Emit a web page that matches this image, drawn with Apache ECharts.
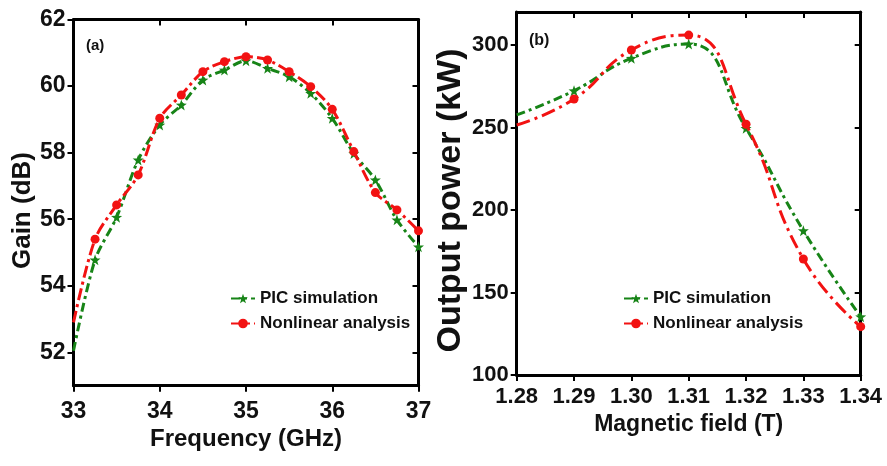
<!DOCTYPE html>
<html>
<head>
<meta charset="utf-8">
<script src="https://cdn.jsdelivr.net/npm/echarts@6/dist/echarts.min.js"></script>
<style>html,body{margin:0;padding:0;background:#fff;}#c{width:887px;height:466px;}</style>
</head>
<body>
<div id="c"></div>
<script>
// Panel (a): Gain vs frequency
const freqGHz = [33.0, 33.25, 33.5, 33.75, 34.0, 34.25, 34.5, 34.75, 35.0, 35.25, 35.5, 35.75, 36.0, 36.25, 36.5, 36.75, 37.0];
const gainPIC = [52.05, 54.78, 56.06, 57.78, 58.83, 59.43, 60.18, 60.48, 60.76, 60.53, 60.28, 59.78, 59.03, 57.97, 57.18, 55.98, 55.17];
const gainNonlinear = [52.9, 55.4, 56.43, 57.33, 59.03, 59.73, 60.43, 60.73, 60.88, 60.78, 60.43, 59.98, 59.3, 58.03, 56.8, 56.28, 55.65];
const gainTicks = [52, 54, 56, 58, 60, 62];
const freqTicks = [33, 34, 35, 36, 37];

// Panel (b): Output power vs magnetic field
const fieldT = [1.28, 1.29, 1.30, 1.31, 1.32, 1.33, 1.34];
const powerPIC = [257.6, 272.3, 292.0, 300.6, 249.5, 187.5, 135.3];
const powerNonlinear = [251.5, 267.3, 297.0, 306.0, 252.0, 170.3, 129.3];
const powerTicks = [100, 150, 200, 250, 300];
const fieldTicks = [1.28, 1.29, 1.30, 1.31, 1.32, 1.33, 1.34];

const seriesNames = ['PIC simulation', 'Nonlinear analysis'];

const FONT = "'Liberation Sans', Arial, sans-serif";
const GREEN = '#178417';
const RED = '#f21212';
const STAR = 'path://M50,0 L61.8,33.8 L97.6,34.5 L69,56.2 L79.4,90.5 L50,70 L20.6,90.5 L31,56.2 L2.4,34.5 L38.2,33.8 Z';

const chart = echarts.init(document.getElementById('c'), null, {renderer: 'canvas'});

function mainX(gi, min, max, ticks, name, fs, nfs, margin, gap, decimals) {
  return {
    type: 'value', gridIndex: gi, min: min, max: max, position: 'bottom',
    name: name, nameLocation: 'middle', nameGap: gap,
    nameTextStyle: {fontFamily: FONT, fontWeight: 'bold', fontSize: nfs, color: '#111'},
    axisLine: {show: true, lineStyle: {color: '#000', width: 3}},
    axisTick: {show: true, inside: false, length: 6, lineStyle: {color: '#000', width: 2}, customValues: ticks},
    axisLabel: {show: true, margin: margin, fontFamily: FONT, fontWeight: 'bold', fontSize: fs, color: '#111',
      customValues: ticks, formatter: v => v.toFixed(decimals)},
    splitLine: {show: false}
  };
}
function mirrorX(gi, min, max, ticks) {
  return {
    type: 'value', gridIndex: gi, min: min, max: max, position: 'top',
    axisLine: {show: true, lineStyle: {color: '#000', width: 3}},
    axisTick: {show: true, inside: true, length: 6, lineStyle: {color: '#000', width: 2}, customValues: ticks},
    axisLabel: {show: false}, splitLine: {show: false}
  };
}
function mainY(gi, min, max, ticks, name, fs, nfs, margin, gap, pad) {
  return {
    type: 'value', gridIndex: gi, min: min, max: max, position: 'left',
    name: name, nameLocation: 'middle', nameGap: gap, nameRotate: 90,
    nameTextStyle: {fontFamily: FONT, fontWeight: 'bold', fontSize: nfs, color: '#111', padding: pad},
    axisLine: {show: true, lineStyle: {color: '#000', width: 3}},
    axisTick: {show: true, inside: false, length: 6, lineStyle: {color: '#000', width: 2}, customValues: ticks},
    axisLabel: {show: true, margin: margin, fontFamily: FONT, fontWeight: 'bold', fontSize: fs, color: '#111', customValues: ticks},
    splitLine: {show: false}
  };
}
function mirrorY(gi, min, max, ticks) {
  return {
    type: 'value', gridIndex: gi, min: min, max: max, position: 'right',
    axisLine: {show: true, lineStyle: {color: '#000', width: 3}},
    axisTick: {show: true, inside: true, length: 6, lineStyle: {color: '#000', width: 2}, customValues: ticks},
    axisLabel: {show: false}, splitLine: {show: false}
  };
}
// first point sits on the left frame without a marker
function zip(xs, ys) {
  return xs.map((x, i) => i === 0 ? {value: [x, ys[i]], symbol: 'none'} : [x, ys[i]]);
}
function line(name, xi, yi, data, color, symbol, size, dash, smooth) {
  return {
    type: 'line', name: name, xAxisIndex: xi, yAxisIndex: yi, data: data,
    smooth: smooth, symbol: symbol, symbolSize: size, showSymbol: true,
    lineStyle: {color: color, width: 3, type: dash},
    itemStyle: {color: color, borderWidth: 0},
    z: name === seriesNames[1] ? 3 : 2,
    animation: false
  };
}

const legendText = {fontFamily: FONT, fontWeight: 'bold', fontSize: 17, color: '#111'};
const option = {
  backgroundColor: '#fff',
  animation: false,
  grid: [
    {left: 73.5, top: 19.4, width: 345, height: 366.3},
    {left: 516.7, top: 12, width: 344, height: 363}
  ],
  xAxis: [
    mainX(0, 33, 37, freqTicks, 'Frequency (GHz)', 23, 24, 14, 33, 0),
    mirrorX(0, 33, 37, freqTicks),
    mainX(1, 1.28, 1.34, fieldTicks, 'Magnetic field (T)', 22, 23, 11, 37, 2),
    mirrorX(1, 1.28, 1.34, fieldTicks)
  ],
  yAxis: [
    mainY(0, 51, 62, gainTicks, 'Gain (dB)', 23, 26, 8, 23, [0, 16, 0, 0]),
    mirrorY(0, 51, 62, gainTicks),
    mainY(1, 100, 320, powerTicks, 'Output power (kW)', 22, 34, 8, 36, [0, 14, 0, 0]),
    mirrorY(1, 100, 320, powerTicks)
  ],
  legend: [
    {data: seriesNames, orient: 'vertical', left: 225, top: 285, itemGap: 8, itemWidth: 24, itemHeight: 12,
      textStyle: legendText, selectedMode: false},
    {data: seriesNames, orient: 'vertical', left: 618, top: 285, itemGap: 8, itemWidth: 24, itemHeight: 12,
      textStyle: legendText, selectedMode: false}
  ],
  graphic: [
    {type: 'text', left: 86, top: 38, style: {text: '(a)', font: "bold 15px 'Liberation Sans', Arial", fill: '#111'}},
    {type: 'text', left: 529, top: 33, style: {text: '(b)', font: "bold 16px 'Liberation Sans', Arial", fill: '#111'}}
  ],
  series: [
    line(seriesNames[0], 0, 0, zip(freqGHz, gainPIC), GREEN, STAR, 11, [9, 4, 3, 4], 0.3),
    line(seriesNames[1], 0, 0, zip(freqGHz, gainNonlinear), RED, 'circle', 9, [12, 4, 3, 4], 0.3),
    line(seriesNames[0], 2, 2, zip(fieldT, powerPIC), GREEN, STAR, 11, [9, 4, 3, 4], 0.5),
    line(seriesNames[1], 2, 2, zip(fieldT, powerNonlinear), RED, 'circle', 9, [14, 5, 3, 5], 0.5)
  ]
};
chart.setOption(option);
</script>
</body>
</html>
